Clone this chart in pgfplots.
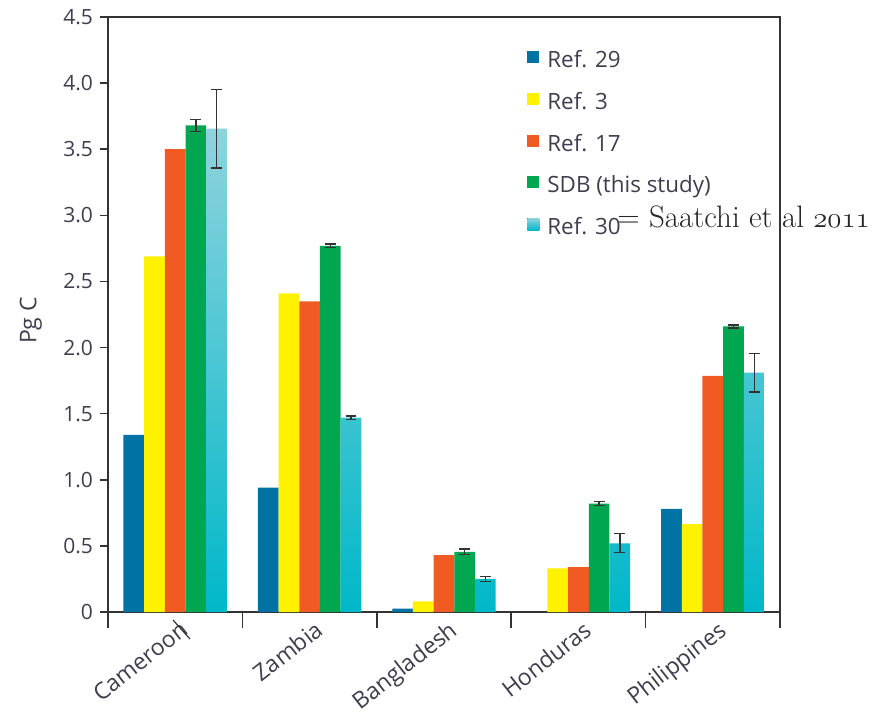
\documentclass[border=0pt]{standalone}
\usepackage{fontspec}
\usepackage{pgfplots}
\pgfplotsset{compat=1.18}
\newfontfamily\sansf{Open Sans}
\definecolor{refA}{HTML}{0072A3}
\definecolor{refB}{HTML}{FFF200}
\definecolor{refC}{HTML}{F15A22}
\definecolor{sdb}{HTML}{00A650}
\definecolor{refEt}{HTML}{8FD3DD}
\definecolor{refEb}{HTML}{00B8C8}
\definecolor{txt}{HTML}{3E3E4E}
\definecolor{axc}{HTML}{333333}
\begin{document}
\begin{tikzpicture}
\useasboundingbox (-54pt,-50.5pt) rectangle (387pt,306pt);
\begin{axis}[
  at={(0pt,0pt)}, anchor=south west,
  width=336pt, height=297.5pt, scale only axis,
  xmin=-0.5, xmax=4.5, ymin=0, ymax=4.5,
  axis line style={draw=axc, line width=0.75pt},
  tick style={draw=axc, line width=0.75pt},
  tick align=outside,
  xtick pos=bottom, ytick pos=left,
  ytick={0,0.5,1,1.5,2,2.5,3,3.5,4,4.5},
  yticklabels={0,0.5,1.0,1.5,2.0,2.5,3.0,3.5,4.0,4.5},
  major tick length=4pt,
  xtick={0,1,2,3,4},
  xticklabels={Cameroon,Zambia,Bangladesh,Honduras,Philippines},
  x tick style={draw=none},
  minor xtick={-0.5,0.5,1.5,2.5,3.5,4.5},
  minor x tick style={draw=axc, line width=0.75pt},
  minor tick length=8pt,
  yticklabel style={font=\sansf\fontsize{10.5}{12}\selectfont, text=txt},
  /pgf/number format/assume math mode=true,
  xticklabel style={font=\sansf\fontsize{11.5}{13}\selectfont, text=txt, rotate=38, anchor=north east, inner sep=1pt, xshift=3pt},
  ylabel={Pg C},
  ylabel style={font=\sansf\fontsize{11.5}{13}\selectfont, text=txt, at={(axis description cs:-0.115,0.49)}, anchor=center},
  ybar=0pt, bar width=0.154,
  legend style={draw=none, fill=none, at={(axis description cs:0.6235,0.943)}, anchor=north west,
    font=\sansf\fontsize{11.2}{13}\selectfont, text=txt,
    row sep=10.6pt, column sep=4pt, inner sep=0pt,
    nodes={inner sep=0pt, text height=7.5pt, text depth=2pt}},
  legend cell align=left,
  legend image code/.code={\fill[#1] (0pt,-0.5pt) rectangle (6pt,5.5pt);},
  error bars/y dir=both, error bars/y explicit,
  error bars/error mark options={rotate=90, mark size=2.7pt, line width=0.7pt, draw=axc},
  error bars/error bar style={line width=0.7pt, draw=axc},
]
\addplot[fill=refA, draw=none, error bars/y dir=none] coordinates {(0,1.34) (1,0.94) (2,0.025) (4,0.78)};
\addlegendentry{Ref. 29}
\addplot[fill=refB, draw=none, error bars/y dir=none] coordinates {(0,2.69) (1,2.41) (2,0.08) (3,0.33) (4,0.665)};
\addlegendentry{Ref. 3}
\addplot[fill=refC, draw=none, error bars/y dir=none] coordinates {(0,3.50) (1,2.35) (2,0.43) (3,0.34) (4,1.785)};
\addlegendentry{Ref. 17}
\addplot[fill=sdb, draw=none] coordinates {(0,3.68) +- (0,0.045) (1,2.77) +- (0,0.012) (2,0.455) +- (0,0.022) (3,0.82) +- (0,0.015) (4,2.16) +- (0,0.012)};
\addlegendentry{SDB (this study)}
\addplot[top color=refEt, bottom color=refEb, draw=none] coordinates {(0,3.655) +- (0,0.297) (1,1.47) +- (0,0.012) (2,0.25) +- (0,0.017) (3,0.52) +- (0,0.072) (4,1.81) +- (0,0.145)};
\addlegendentry{Ref. 30}
\end{axis}
\node[anchor=base west, inner sep=0pt, font=\fontsize{15.5}{18}\selectfont, text=black!85] at (254.5pt,192.5pt) {= Saatchi et al $\mathnormal{2011}$};
\draw[axc, line width=0.6pt] (32.5pt,-4pt) -- (41pt,-13.5pt);
\end{tikzpicture}
\end{document}
